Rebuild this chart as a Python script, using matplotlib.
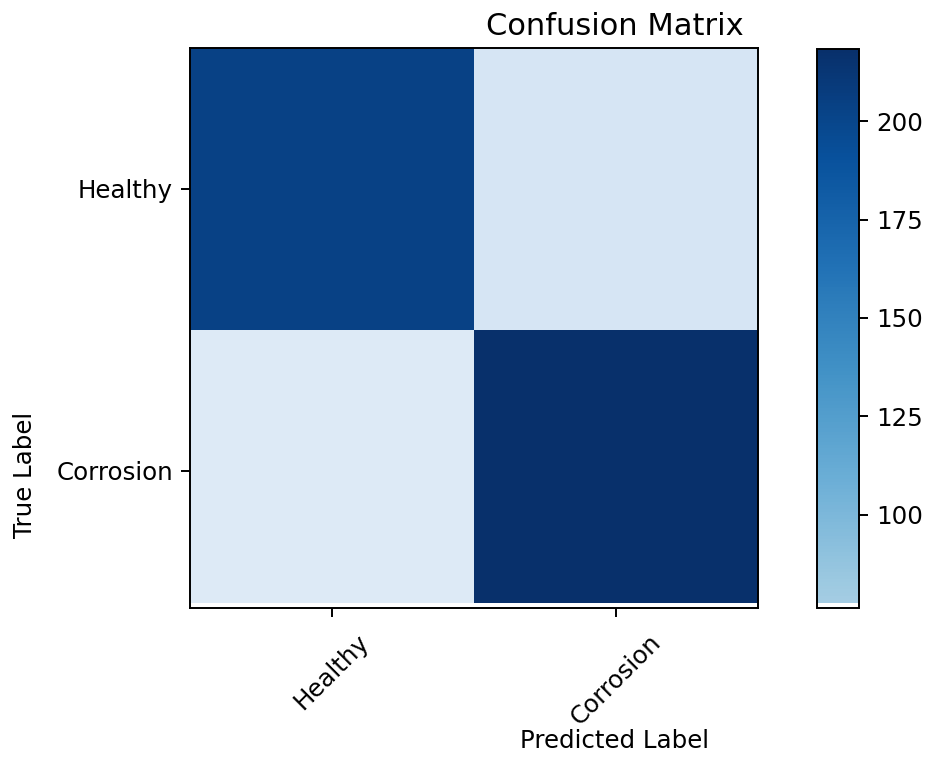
import matplotlib
matplotlib.use("Agg")
import matplotlib.pyplot as plt
from matplotlib.colors import Normalize
from matplotlib.patches import Rectangle
import numpy as np

classes = ["Healthy", "Corrosion"]
cm_row_healthy = [203, 36]
cm_row_corrosion = [28, 218]
cm = np.array([cm_row_healthy, cm_row_corrosion])
cbar_ticks = [100, 125, 150, 175, 200]

W, H = 930, 766
DPI = 176
fig = plt.figure(figsize=(W / DPI, H / DPI), dpi=DPI)

# heatmap axes: x 190..758, y 48..607.7 (pixels)
ax = fig.add_axes([190 / W, 1 - 607.7 / H, 568 / W, 559.7 / H])
norm = Normalize(vmin=0, vmax=218.3)
im = ax.imshow(cm, cmap="Blues", norm=norm, aspect="auto", interpolation="nearest")
ax.set_xlim(-0.5, 1.5)
ax.set_ylim(1.485, -0.5)
# small white gap at bottom of image (as in reference)
ax.add_patch(Rectangle((0, 0), 1, 4.7 / 559.7, transform=ax.transAxes,
                       facecolor="white", edgecolor="none", zorder=2))

ax.set_xticks(range(len(classes)))
ax.set_xticklabels(classes, rotation=45)
ax.tick_params(axis="x", pad=5.5)
ax.set_yticks(range(len(classes)))
ax.set_yticklabels(classes)

ax.set_title("Confusion Matrix", x=0.748, pad=5.3, fontsize=12.5)
ax.set_xlabel("Predicted Label")
ax.xaxis.set_label_coords(0.748, -0.216)
ax.set_ylabel("True Label")
ax.yaxis.set_label_coords(-0.269, 0.237)

# colorbar axes: x 817..859, y 49.3..607.7
cax = fig.add_axes([817 / W, 1 - 607.7 / H, 42 / W, 558.4 / H])
cbar = fig.colorbar(im, cax=cax, ticks=cbar_ticks)
cbar.ax.set_ylim(76.3, 218.3)
cbar.ax.add_patch(Rectangle((0, 0), 1, 4.7 / 558.4, transform=cbar.ax.transAxes,
                            facecolor="white", edgecolor="none", zorder=2))

fig.savefig("out.png", dpi=DPI)
